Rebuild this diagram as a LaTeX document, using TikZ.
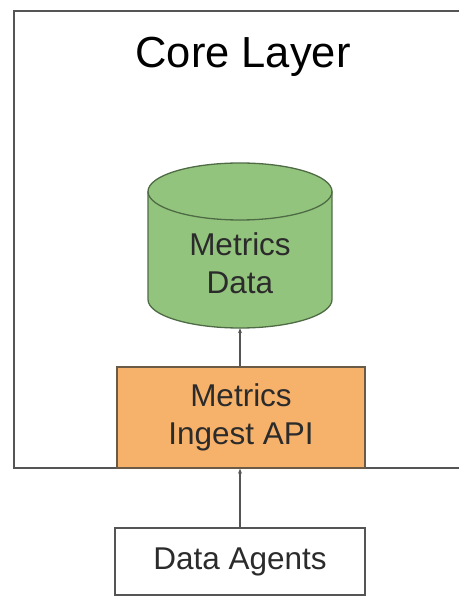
\documentclass[tikz,border=0pt]{standalone}
\usepackage{fontspec}
\setmainfont{Liberation Sans}
\usetikzlibrary{arrows.meta}
\definecolor{dbgreen}{HTML}{93C47D}
\definecolor{dbedge}{HTML}{4E6B45}
\definecolor{apiorange}{HTML}{F6B26B}
\definecolor{apiedge}{HTML}{6B5A45}
\definecolor{edgegray}{HTML}{555555}
\definecolor{txt}{HTML}{2B2B2B}
\begin{document}
\begin{tikzpicture}[x=1pt,y=1pt,
  boxtext/.style={font=\fontsize{31.5}{38}\selectfont, text=txt, align=center},
  plainbox/.style={draw=edgegray, line width=1.4pt, inner sep=0pt},
  conn/.style={draw=edgegray, line width=1.3pt, -{Stealth[length=5pt,width=4pt]}}
]
\useasboundingbox (0,0) rectangle (459,597);
% outer Core Layer frame (open on the right)
\draw[edgegray, line width=1.6pt] (459,586) -- (14,586) -- (14,129) -- (459,129);
\node[font=\fontsize{43.5}{50}\selectfont, text=black] (title) at (243,540) {Core Layer};
% cylinder
\fill[dbgreen] (148,297.5) rectangle (332,405.5);
\fill[dbgreen] (240,297.5) ellipse (92 and 28.5);
\draw[dbedge, line width=1.3pt, fill=dbgreen] (240,405.5) ellipse (92 and 28.5);
\draw[dbedge, line width=1.3pt] (148,405.5) -- (148,297.5) arc (180:360:92 and 28.5) -- (332,405.5);
\node[minimum width=184pt, minimum height=165pt, inner sep=0pt] (db) at (240,351.5) {};
\node[boxtext] (dbtext) at (240,333.5) {Metrics\\Data};
% API box
\node[draw=apiedge, fill=apiorange, line width=1.4pt, minimum width=248pt, minimum height=101pt, inner sep=0pt, boxtext] (api) at (241,179.5) {Metrics\\Ingest API};
% Data agents
\node[plainbox, minimum width=250pt, minimum height=67pt, boxtext] (agents) at (240,35.5) {Data Agents};
% connectors
\draw[conn] (api.north -| db.south) -- (db.south);
\draw[conn] (agents.north) -- (agents.north |- api.south);
\end{tikzpicture}
\end{document}
